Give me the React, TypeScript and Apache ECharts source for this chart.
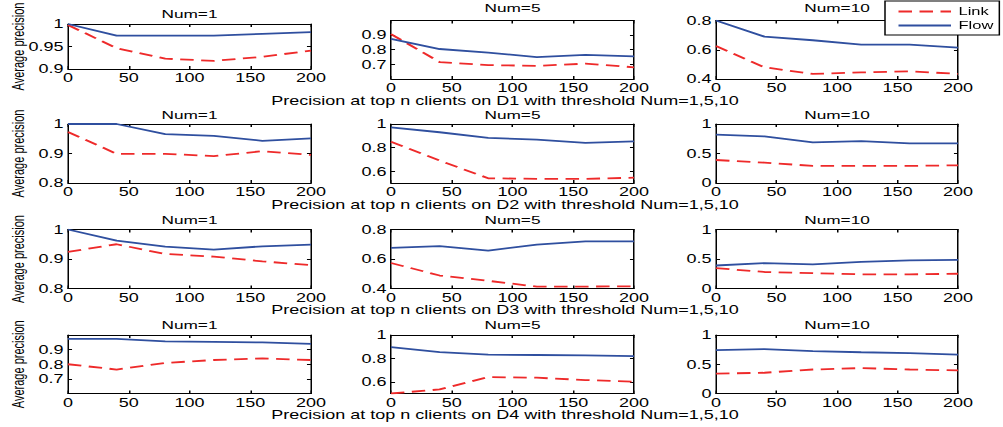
import React, { useEffect, useRef } from "react";
import * as echarts from "echarts";

// ---------- data ----------
const xValues = [0, 40, 80, 120, 160, 200];
const xTicks = [0, 50, 100, 150, 200];
const datasetNames = ["D1", "D2", "D3", "D4"];
const thresholdTitles = ["Num=1", "Num=5", "Num=10"];
const seriesNames = ["Link", "Flow"];

const d1Link1 = [0.998, 0.946, 0.923, 0.918, 0.927, 0.941];
const d1Flow1 = [1.0, 0.974, 0.974, 0.974, 0.978, 0.982];
const d1Link5 = [0.907, 0.716, 0.695, 0.69, 0.705, 0.68];
const d1Flow5 = [0.875, 0.805, 0.78, 0.75, 0.765, 0.755];
const d1Link10 = [0.625, 0.48, 0.435, 0.445, 0.452, 0.435];
const d1Flow10 = [0.8, 0.69, 0.665, 0.635, 0.635, 0.615];

const d2Link1 = [0.973, 0.899, 0.899, 0.891, 0.908, 0.895];
const d2Flow1 = [1.0, 1.0, 0.966, 0.96, 0.943, 0.951];
const d2Link5 = [0.85, 0.69, 0.54, 0.535, 0.535, 0.545];
const d2Flow5 = [0.972, 0.93, 0.882, 0.868, 0.84, 0.853];
const d2Link10 = [0.39, 0.345, 0.29, 0.29, 0.29, 0.3];
const d2Flow10 = [0.82, 0.79, 0.69, 0.71, 0.67, 0.67];

const d3Link1 = [0.924, 0.95, 0.917, 0.908, 0.892, 0.879];
const d3Flow1 = [1.0, 0.962, 0.942, 0.932, 0.943, 0.949];
const d3Link5 = [0.573, 0.488, 0.452, 0.413, 0.413, 0.415];
const d3Flow5 = [0.675, 0.687, 0.657, 0.698, 0.72, 0.72];
const d3Link10 = [0.345, 0.28, 0.26, 0.24, 0.24, 0.25];
const d3Flow10 = [0.39, 0.43, 0.41, 0.45, 0.475, 0.485];

const d4Link1 = [0.8, 0.764, 0.809, 0.829, 0.84, 0.829];
const d4Flow1 = [0.973, 0.973, 0.956, 0.953, 0.949, 0.94];
const d4Link5 = [0.5, 0.535, 0.64, 0.635, 0.615, 0.6];
const d4Flow5 = [0.896, 0.854, 0.832, 0.829, 0.826, 0.82];
const d4Link10 = [0.34, 0.355, 0.41, 0.435, 0.41, 0.395];
const d4Flow10 = [0.74, 0.76, 0.726, 0.705, 0.69, 0.666];

// y ranges [min, max] and labelled ticks per panel
const yRangeD1 = [[0.9, 1], [0.6, 1], [0.4, 0.8]];
const yRangeD2 = [[0.8, 1], [0.5, 1], [0, 1]];
const yRangeD3 = [[0.8, 1], [0.4, 0.8], [0, 1]];
const yRangeD4 = [[0.6, 1], [0.5, 1], [0, 1]];
const yTicksD1 = [[0.9, 0.95, 1], [0.7, 0.8, 0.9], [0.4, 0.6, 0.8]];
const yTicksD2 = [[0.8, 0.9, 1], [0.6, 0.8, 1], [0, 0.5, 1]];
const yTicksD3 = [[0.8, 0.9, 1], [0.4, 0.6, 0.8], [0, 0.5, 1]];
const yTicksD4 = [[0.7, 0.8, 0.9], [0.6, 0.8, 1], [0, 0.5, 1]];

const linkData = [
  [d1Link1, d1Link5, d1Link10],
  [d2Link1, d2Link5, d2Link10],
  [d3Link1, d3Link5, d3Link10],
  [d4Link1, d4Link5, d4Link10],
];
const flowData = [
  [d1Flow1, d1Flow5, d1Flow10],
  [d2Flow1, d2Flow5, d2Flow10],
  [d3Flow1, d3Flow5, d3Flow10],
  [d4Flow1, d4Flow5, d4Flow10],
];
const yRanges = [yRangeD1, yRangeD2, yRangeD3, yRangeD4];
const yTicks = [yTicksD1, yTicksD2, yTicksD3, yTicksD4];

// ---------- layout ----------
const W = 1003;
const H = 427;
const S = 1.5; // horizontal stretch of the original figure
const FONT = '"Liberation Sans", Arial, Helvetica, sans-serif';
const RED = "#ee2a2a";
const BLUE = "#2f4f9f";

const colLeft = [68, 391, 716];
const colWidth = [243, 243, 242];
const panelTB = [
  [[24, 45], [20.5, 58.5], [20.5, 58.5]],
  [[124, 59], [124, 59], [124, 59]],
  [[229.5, 59], [229.5, 59], [229.5, 59]],
  [[335, 58.5], [335, 58.5], [335, 58.5]],
];
const titleY = [[14, 8, 8], [115, 115, 115], [220, 220, 220], [325, 325, 325]];
const xLabelY = [101, 205, 310, 415];

const fmt = (v: number) => String(+Number(v).toFixed(2));

function buildOption() {
  const grid: any[] = [];
  const xAxis: any[] = [];
  const yAxis: any[] = [];
  const series: any[] = [];
  const graphic: any[] = [];

  datasetNames.forEach((ds, ri) => {
    thresholdTitles.forEach((tt, ci) => {
      const gi = ri * 3 + ci;
      const [top, height] = panelTB[ri][ci];
      const left = colLeft[ci] / S;
      const width = colWidth[ci] / S;
      grid.push({ left, top, width, height });

      const axisLine = { show: true, onZero: false, lineStyle: { color: "#000", width: 1 } };
      const xBase = {
        type: "value",
        gridIndex: gi,
        min: 0,
        max: 200,
        interval: 50,
        axisLine,
        splitLine: { show: false },
        axisTick: { show: true, inside: true, length: 3, lineStyle: { color: "#000" } },
      };
      xAxis.push({
        ...xBase,
        position: "bottom",
        axisLabel: { show: true, margin: 3, fontSize: 12, color: "#000", fontFamily: FONT, customValues: xTicks },
      });
      xAxis.push({ ...xBase, position: "top", axisLabel: { show: false } });

      const [ymin, ymax] = yRanges[ri][ci];
      const ticks = yTicks[ri][ci];
      const yBase = {
        type: "value",
        gridIndex: gi,
        min: ymin,
        max: ymax,
        axisLine,
        splitLine: { show: false },
        axisTick: { show: true, inside: true, length: 2.7, customValues: ticks, lineStyle: { color: "#000" } },
      };
      yAxis.push({
        ...yBase,
        position: "left",
        axisLabel: {
          show: true,
          margin: 3,
          fontSize: 12,
          color: "#000",
          fontFamily: FONT,
          customValues: ticks,
          formatter: (v: number) => fmt(v),
        },
      });
      yAxis.push({ ...yBase, position: "right", axisLabel: { show: false } });

      series.push({
        type: "line",
        name: seriesNames[0],
        xAxisIndex: gi * 2,
        yAxisIndex: gi * 2,
        data: xValues.map((x, i) => [x, linkData[ri][ci][i]]),
        symbol: "none",
        showSymbol: false,
        lineStyle: { color: RED, width: 1.8, type: [9, 5] },
        itemStyle: { color: RED },
      });
      series.push({
        type: "line",
        name: seriesNames[1],
        xAxisIndex: gi * 2,
        yAxisIndex: gi * 2,
        data: xValues.map((x, i) => [x, flowData[ri][ci][i]]),
        symbol: "none",
        showSymbol: false,
        lineStyle: { color: BLUE, width: 1.8, type: "solid" },
        itemStyle: { color: BLUE },
      });

      graphic.push({
        type: "text",
        x: left + width / 2,
        y: titleY[ri][ci],
        style: {
          text: tt,
          fill: "#000",
          fontSize: 11.5,
          fontFamily: FONT,
          align: "center",
          verticalAlign: "middle",
          textAlign: "center",
          textVerticalAlign: "middle",
        },
      });

      if (ci === 0) {
        graphic.push({
          type: "text",
          x: 12,
          y: top + height / 2,
          rotation: Math.PI / 2,
          style: {
            text: "Average precision",
            fill: "#000",
            fontSize: 11,
            fontFamily: FONT,
            align: "center",
            verticalAlign: "middle",
            textAlign: "center",
            textVerticalAlign: "middle",
          },
        });
      }
    });

    graphic.push({
      type: "text",
      x: 505 / S,
      y: xLabelY[ri],
      style: {
        text: `Precision at top n clients on ${ds} with threshold Num=1,5,10`,
        fill: "#000",
        fontSize: 12,
        fontFamily: FONT,
        align: "center",
        verticalAlign: "middle",
        textAlign: "center",
        textVerticalAlign: "middle",
      },
    });
  });

  return {
    animation: false,
    backgroundColor: "#fff",
    grid,
    xAxis,
    yAxis,
    series,
    graphic,
    legend: {
      data: seriesNames,
      orient: "vertical",
      left: 590,
      top: 1,
      itemWidth: 35,
      itemHeight: 10,
      itemGap: 3,
      padding: [5, 4, 4, 8],
      borderColor: "#000",
      borderWidth: 1,
      backgroundColor: "#fff",
      selectedMode: false,
      itemStyle: { color: "rgba(0,0,0,0)", borderWidth: 0, opacity: 0 },
      textStyle: { fontSize: 11, color: "#000", fontFamily: FONT },
    },
  };
}

export default function App() {
  const ref = useRef<HTMLDivElement>(null);
  useEffect(() => {
    if (!ref.current) return;
    const chart = echarts.init(ref.current, undefined, { renderer: "svg", width: W / S, height: H });
    chart.setOption(buildOption() as any);
    return () => chart.dispose();
  }, []);
  return (
    <div
      ref={ref}
      style={{
        position: "absolute",
        left: 0,
        top: 0,
        width: W / S,
        height: H,
        transform: `scaleX(${S})`,
        transformOrigin: "0 0",
      }}
    />
  );
}
